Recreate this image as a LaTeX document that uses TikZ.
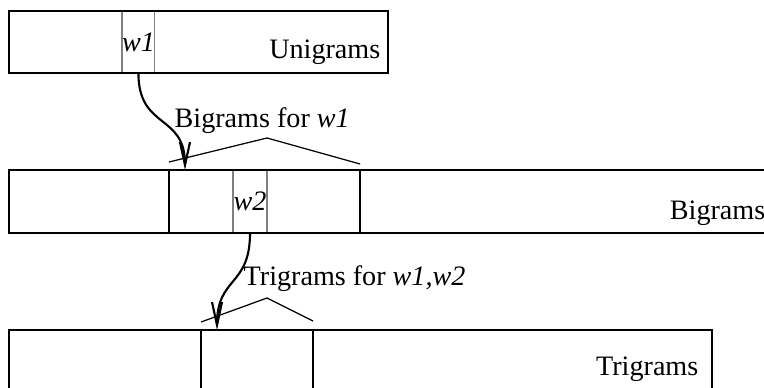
\documentclass[tikz,border=0pt]{standalone}
\usepackage{fontspec}
\setmainfont{Liberation Serif}
\usetikzlibrary{arrows.meta}
\newcommand{\lblfont}{\fontsize{8}{9.6}\selectfont}

\begin{document}
\begin{tikzpicture}[x=0.01cm,y=-0.01cm,
      >={Straight Barb[length=2.3mm,width=1mm]},
      table/.style={draw,line width=0.6pt,anchor=north west,inner sep=0pt,outer sep=0pt},
      cell/.style={draw=gray,line width=0.35pt,anchor=north west,inner sep=0pt,outer sep=0pt,
                   font=\lblfont\itshape},
      label/.style={anchor=base west,inner sep=0pt,font=\lblfont},
      tname/.style={label,anchor=base east},
      tent/.style={line width=0.35pt},
      arrow/.style={->,line width=0.6pt}]
    \useasboundingbox (0,0) rectangle (764,387);
    \clip (0,0) rectangle (764,387);
    % cells holding the current word
    \node[cell,minimum width=0.32cm,minimum height=0.62cm] (uw1) at (122,11) {w1};
    \node[cell,minimum width=0.34cm,minimum height=0.63cm] (bw2) at (233,170) {w2};
    % tables and their spans
    \node[table,minimum width=3.79cm,minimum height=0.62cm] (u) at (9,11) {};
    \node[table,minimum width=7.91cm,minimum height=0.63cm] (b) at (9,170) {};
    \node[table,minimum width=1.91cm,minimum height=0.63cm] (bs) at (169,170) {};
    \node[table,minimum width=7.03cm,minimum height=0.80cm] (t) at (9,330) {};
    \node[table,minimum width=1.12cm,minimum height=0.80cm] (ts) at (201,330) {};
    \node[tname] (lu) at (381,58) {Unigrams};
    \node[tname] (lb) at (766,219) {Bigrams};
    \node[tname] (lt) at (699,375) {Trigrams};
    \node[label] (lbs) at (174,127) {Bigrams for \textit{w1}};
    \node[label] (lts) at (243,285) {Trigrams for \textit{w1,w2}};
    % spans
    \draw[tent] ([yshift=0.08cm]bs.north west) -- ([yshift=0.32cm]bw2.north east)
      -- ([yshift=0.06cm]bs.north east);
    \draw[tent] ([yshift=0.08cm]ts.north west) -- ([xshift=0.66cm,yshift=0.32cm]ts.north west)
      -- ([yshift=0.09cm]ts.north east);
    % links
    \draw[arrow] (uw1.south) to[out=-90,in=90,looseness=1.35] ([xshift=0.16cm]bs.north west);
    \draw[arrow] (bw2.south) to[out=-90,in=90,looseness=1.35] ([xshift=0.16cm]ts.north west);
  \end{tikzpicture}
\end{document}
